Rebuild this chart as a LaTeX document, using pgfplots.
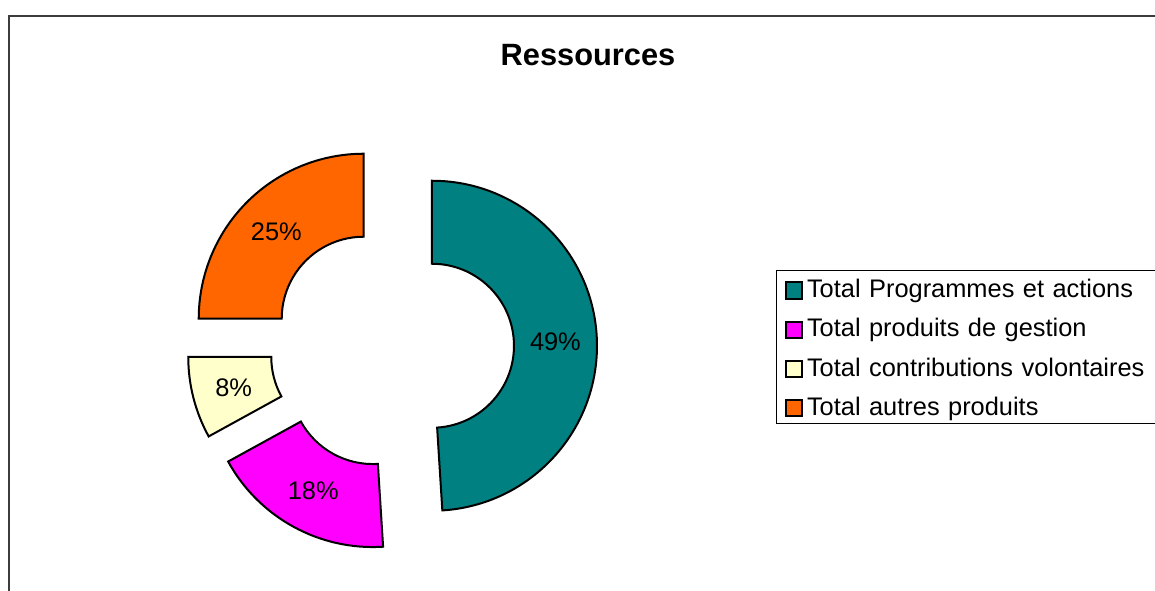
\documentclass[border=0pt]{standalone}
\usepackage{pgfplots}
\pgfplotsset{compat=1.18}
\usepackage{pgfplotstable}
\usetikzlibrary{calc}
\usepackage{fontspec}
\setmainfont{Liberation Sans}
\definecolor{c1}{HTML}{008080}
\definecolor{c2}{HTML}{FF00FF}
\definecolor{c3}{HTML}{FFFFCC}
\definecolor{c4}{HTML}{FF6600}
\definecolor{framegray}{HTML}{3C3C3C}
\newcommand\labfont{\fontsize{12.7}{14.5}\selectfont}

\pgfplotstableread[col sep=comma]{
name,value,colour
Total Programmes et actions,49,c1
Total produits de gestion,18,c2
Total contributions volontaires,8,c3
Total autres produits,25,c4
}\slices

% geometry (axis units = pixels of the reference, y upwards)
\def\Cx{392}\def\Cy{243}\def\Dexp{40}
\def\Rout{82.5pt}\def\Rin{41pt}\def\Rlab{61.75pt}

\def\slicecode{}
\def\cumangle{90}
\pgfplotsforeachungrouped \i in {0,...,3}{%
  \pgfplotstablegetelem{\i}{value}\of\slices \let\v\pgfplotsretval
  \pgfplotstablegetelem{\i}{colour}\of\slices \let\col\pgfplotsretval
  \pgfmathsetmacro\sa{\cumangle}%
  \pgfmathsetmacro\ea{\cumangle-3.6*\v}%
  \pgfmathsetmacro\ma{\cumangle-1.8*\v}%
  \pgfmathsetmacro\cx{\Cx+\Dexp*cos(\ma)}%
  \pgfmathsetmacro\cy{\Cy+\Dexp*sin(\ma)}%
  \xdef\slicecode{\unexpanded\expandafter{\slicecode}%
    \noexpand\draw[fill=\col, line width=1pt, line join=miter]
      ($(axis cs:\cx,\cy)+(\sa:\Rout)$) arc[start angle=\sa, end angle=\ea, radius=\Rout]
      -- ($(axis cs:\cx,\cy)+(\ea:\Rin)$) arc[start angle=\ea, end angle=\sa, radius=\Rin] -- cycle;
    \noexpand\node[font=\noexpand\labfont, inner sep=0pt] at ($(axis cs:\cx,\cy)+(\ma:\Rlab)$) {\v\noexpand\%};
  }%
  \xdef\cumangle{\ea}%
}

\begin{document}
\begin{tikzpicture}
\useasboundingbox (0,0) rectangle (577.5pt,295pt);
\clip (0,0) rectangle (577.5pt,295pt);
\begin{axis}[
  at={(0pt,0pt)}, anchor=south west,
  x=0.5pt, y=0.5pt,
  xmin=0, xmax=1155, ymin=0, ymax=590,
  hide axis, clip=false,
  legend image code/.code={\draw[#1, line width=1pt] (0pt,-0.6pt) rectangle (8pt,7.6pt);},
  legend cell align=left,
  legend style={
    at={(axis cs:776,320)}, anchor=north west,
    draw=black, line width=0.6pt,
    inner xsep=4.3pt, inner ysep=2.5pt,
    row sep=7.1pt, column sep=1.9pt,
    font=\labfont,
    cells={anchor=base west},
    nodes={inner sep=0pt, text height=11pt, text depth=1.5pt, text width=180pt, align=left},
  },
]
\slicecode
\node[font=\fontsize{15.4}{18}\selectfont\bfseries, inner sep=0pt] at (axis cs:588,535) {Ressources};
\draw[line width=1pt, framegray] (axis cs:9,-20) -- (axis cs:9,574.3) -- (axis cs:1200,574.3);
\addlegendimage{fill=c1, draw=black}
\addlegendentry{Total Programmes et actions}
\addlegendimage{fill=c2, draw=black}
\addlegendentry{Total produits de gestion}
\addlegendimage{fill=c3, draw=black}
\addlegendentry{Total contributions volontaires}
\addlegendimage{fill=c4, draw=black}
\addlegendentry{Total autres produits}
\end{axis}
\end{tikzpicture}
\end{document}
